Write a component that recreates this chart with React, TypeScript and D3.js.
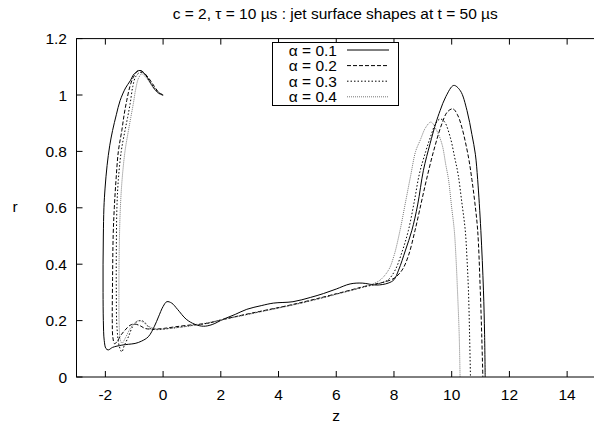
import React from "react";
import * as d3 from "d3";

const xTicks = [-2, 0, 2, 4, 6, 8, 10, 12, 14];
const yTicks = [0, 0.2, 0.4, 0.6, 0.8, 1, 1.2];
const seriesLabels = ["α = 0.1", "α = 0.2", "α = 0.3", "α = 0.4"];

const z01 = [0, -0.1, -0.25, -0.45, -0.6, -0.8, -1.0, -1.14, -1.3, -1.49, -1.62, -1.75, -1.85, -1.94, -2.01, -2.05, -2.07, -2.08, -2.08, -2.07, -2.04, -1.98, -1.9, -1.75, -1.43, -1.2, -0.97, -0.75, -0.51, -0.3, -0.16, 0.0, 0.13, 0.3, 0.5, 0.8, 1.1, 1.4, 1.7, 2.09, 2.5, 2.9, 3.4, 3.82, 4.5, 5.1, 5.56, 6.0, 6.48, 6.9, 7.4, 7.8, 8.0, 8.16, 8.4, 8.62, 8.82, 9.02, 9.25, 9.45, 9.6, 9.8, 10.07, 10.3, 10.53, 10.7, 10.82, 10.9, 11.01, 11.1, 11.14, 11.16];
const r01 = [1.0, 1.003, 1.015, 1.045, 1.07, 1.087, 1.075, 1.05, 1.025, 0.98, 0.93, 0.874, 0.82, 0.75, 0.67, 0.6, 0.5, 0.4, 0.3, 0.2, 0.13, 0.101, 0.096, 0.105, 0.113, 0.116, 0.119, 0.127, 0.143, 0.18, 0.213, 0.25, 0.267, 0.262, 0.24, 0.205, 0.187, 0.18, 0.186, 0.205, 0.222, 0.24, 0.253, 0.262, 0.267, 0.282, 0.296, 0.312, 0.33, 0.333, 0.326, 0.333, 0.345, 0.379, 0.45, 0.52, 0.61, 0.733, 0.827, 0.9, 0.945, 0.995, 1.034, 1.015, 0.945, 0.86, 0.79, 0.7, 0.52, 0.308, 0.15, 0];

const z02 = [0, -0.15, -0.3, -0.5, -0.7, -0.85, -1.03, -1.15, -1.26, -1.35, -1.43, -1.55, -1.63, -1.69, -1.73, -1.75, -1.76, -1.74, -1.68, -1.6, -1.45, -1.32, -1.15, -1.0, -0.8, -0.62, -0.3, 0.0, 0.42, 1.0, 1.5, 2.2, 3.0, 4.4, 5.1, 6.0, 7.17, 7.6, 8.0, 8.28, 8.5, 8.73, 8.95, 9.12, 9.37, 9.66, 9.85, 10.04, 10.2, 10.35, 10.58, 10.7, 10.8, 10.9, 10.99, 11.04, 11.08];
const r02 = [1.0, 1.01, 1.03, 1.06, 1.082, 1.087, 1.063, 1.03, 0.98, 0.93, 0.874, 0.8, 0.7, 0.6, 0.5, 0.35, 0.2, 0.14, 0.118, 0.125, 0.15, 0.166, 0.183, 0.188, 0.182, 0.172, 0.17, 0.172, 0.178, 0.185, 0.19, 0.207, 0.225, 0.255, 0.272, 0.295, 0.326, 0.335, 0.35, 0.379, 0.43, 0.52, 0.62, 0.697, 0.8, 0.898, 0.94, 0.951, 0.93, 0.886, 0.78, 0.7, 0.62, 0.52, 0.308, 0.15, 0];

const z03 = [0, -0.15, -0.3, -0.5, -0.65, -0.8, -0.95, -1.05, -1.14, -1.23, -1.32, -1.45, -1.55, -1.6, -1.62, -1.62, -1.6, -1.52, -1.43, -1.35, -1.2, -1.05, -0.91, -0.74, -0.6, -0.45, -0.2, 0.2, 1.0, 1.5, 2.2, 3.0, 4.4, 5.1, 6.0, 7.0, 7.5, 7.8, 8.04, 8.3, 8.5, 8.7, 8.88, 9.1, 9.26, 9.45, 9.6, 9.75, 9.95, 10.1, 10.22, 10.35, 10.47, 10.53, 10.58, 10.62, 10.65];
const r03 = [1.0, 1.008, 1.025, 1.055, 1.075, 1.08, 1.065, 1.03, 0.97, 0.92, 0.874, 0.8, 0.7, 0.6, 0.45, 0.3, 0.18, 0.11, 0.089, 0.11, 0.143, 0.18, 0.196, 0.2, 0.19, 0.172, 0.168, 0.172, 0.183, 0.19, 0.207, 0.224, 0.254, 0.27, 0.294, 0.32, 0.332, 0.345, 0.379, 0.45, 0.52, 0.62, 0.72, 0.8, 0.85, 0.9, 0.915, 0.905, 0.85, 0.78, 0.72, 0.62, 0.52, 0.42, 0.308, 0.15, 0];

const z04 = [0, -0.15, -0.3, -0.5, -0.62, -0.74, -0.85, -0.95, -1.03, -1.12, -1.2, -1.32, -1.42, -1.48, -1.52, -1.53, -1.52, -1.48, -1.42, -1.3, -1.15, -1.0, -0.85, -0.7, -0.5, -0.2, 0.2, 1.0, 2.2, 3.0, 4.4, 5.1, 6.0, 6.8, 7.2, 7.5, 7.81, 8.0, 8.21, 8.4, 8.58, 8.75, 8.91, 9.1, 9.28, 9.45, 9.66, 9.8, 9.89, 10.0, 10.09, 10.15, 10.2, 10.26, 10.29];
const r04 = [1.0, 1.005, 1.02, 1.05, 1.065, 1.075, 1.06, 1.02, 0.97, 0.92, 0.874, 0.8, 0.7, 0.6, 0.45, 0.3, 0.18, 0.13, 0.12, 0.14, 0.17, 0.19, 0.2, 0.195, 0.18, 0.17, 0.172, 0.182, 0.206, 0.223, 0.253, 0.27, 0.293, 0.315, 0.328, 0.342, 0.379, 0.43, 0.52, 0.62, 0.715, 0.8, 0.84, 0.885, 0.904, 0.88, 0.827, 0.75, 0.7, 0.6, 0.52, 0.42, 0.308, 0.15, 0];

const zSeries = [z01, z02, z03, z04];
const rSeries = [r01, r02, r03, r04];

const styles = [
  { stroke: "#000", dash: "none", width: 1 },
  { stroke: "#000", dash: "4,2", width: 1 },
  { stroke: "#000", dash: "1.5,2", width: 1 },
  { stroke: "#777", dash: "1,1", width: 1 },
];

const W = 594;
const H = 424;
const FONT = "'Liberation Sans', Arial, Helvetica, sans-serif";
const FS = 15.5;

export default function App() {
  const x = d3.scaleLinear().domain([-3, 15]).range([76.5, 596]);
  const y = d3.scaleLinear().domain([0, 1.2]).range([377, 38.6]);
  const line = d3
    .line<[number, number]>()
    .x((d) => x(d[0]))
    .y((d) => y(d[1]))
    .curve(d3.curveCatmullRom.alpha(0.5));

  const x0 = x(-3);
  const x1 = x(15);
  const yb = y(0);
  const yt = y(1.2);
  const tick = 6;

  return (
    <div style={{ position: "absolute", left: 0, top: 0 }}>
      <svg width={W} height={H} style={{ display: "block", background: "#fff" }}>
        <defs>
          <clipPath id="plotclip">
            <rect x={x0} y={yt} width={x1 - x0} height={yb - yt} />
          </clipPath>
        </defs>
        <text x={(x0 + x1) / 2 - 1} y={19} textAnchor="middle" fontFamily={FONT} fontSize={FS}>
          c = 2, τ = 10 µs : jet surface shapes at t = 50 µs
        </text>
        {xTicks.map((t) => (
          <g key={"xt" + t}>
            <line x1={x(t)} x2={x(t)} y1={yb} y2={yb - tick} stroke="#000" strokeWidth={1} />
            <line x1={x(t)} x2={x(t)} y1={yt} y2={yt + tick} stroke="#000" strokeWidth={1} />
            <text x={x(t)} y={399.5} textAnchor="middle" fontFamily={FONT} fontSize={FS}>
              {t}
            </text>
          </g>
        ))}
        {yTicks.map((t) => (
          <g key={"yt" + t}>
            <line x1={x0} x2={x0 + tick} y1={y(t)} y2={y(t)} stroke="#000" strokeWidth={1} />
            <text x={67} y={y(t) + 5.5} textAnchor="end" fontFamily={FONT} fontSize={FS}>
              {String(t)}
            </text>
          </g>
        ))}
        <text x={336} y={420.5} textAnchor="middle" fontFamily={FONT} fontSize={FS}>
          z
        </text>
        <text x={15} y={212} textAnchor="middle" fontFamily={FONT} fontSize={FS}>
          r
        </text>
        <g clipPath="url(#plotclip)">
          {zSeries.map((zs, i) => {
            const pts: [number, number][] = zs.map((zv, j) => [zv, rSeries[i][j]]);
            return (
              <path
                key={"s" + i}
                d={line(pts) || ""}
                fill="none"
                stroke={styles[i].stroke}
                strokeWidth={styles[i].width}
                strokeDasharray={styles[i].dash}
              />
            );
          })}
        </g>
        <rect x={x0} y={yt} width={x1 - x0} height={yb - yt} fill="none" stroke="#000" strokeWidth={1} />
        <rect x={272.5} y={42.5} width={126} height={63} fill="#fff" stroke="#000" strokeWidth={1} />
        {seriesLabels.map((lab, i) => {
          const ly = 50 + i * 15.6;
          return (
            <g key={"lg" + i}>
              <text x={337} y={ly + 5.5} textAnchor="end" fontFamily={FONT} fontSize={FS}>
                {lab}
              </text>
              <line
                x1={347}
                x2={389}
                y1={ly}
                y2={ly}
                stroke={styles[i].stroke}
                strokeWidth={styles[i].width}
                strokeDasharray={styles[i].dash}
              />
            </g>
          );
        })}
      </svg>
    </div>
  );
}
